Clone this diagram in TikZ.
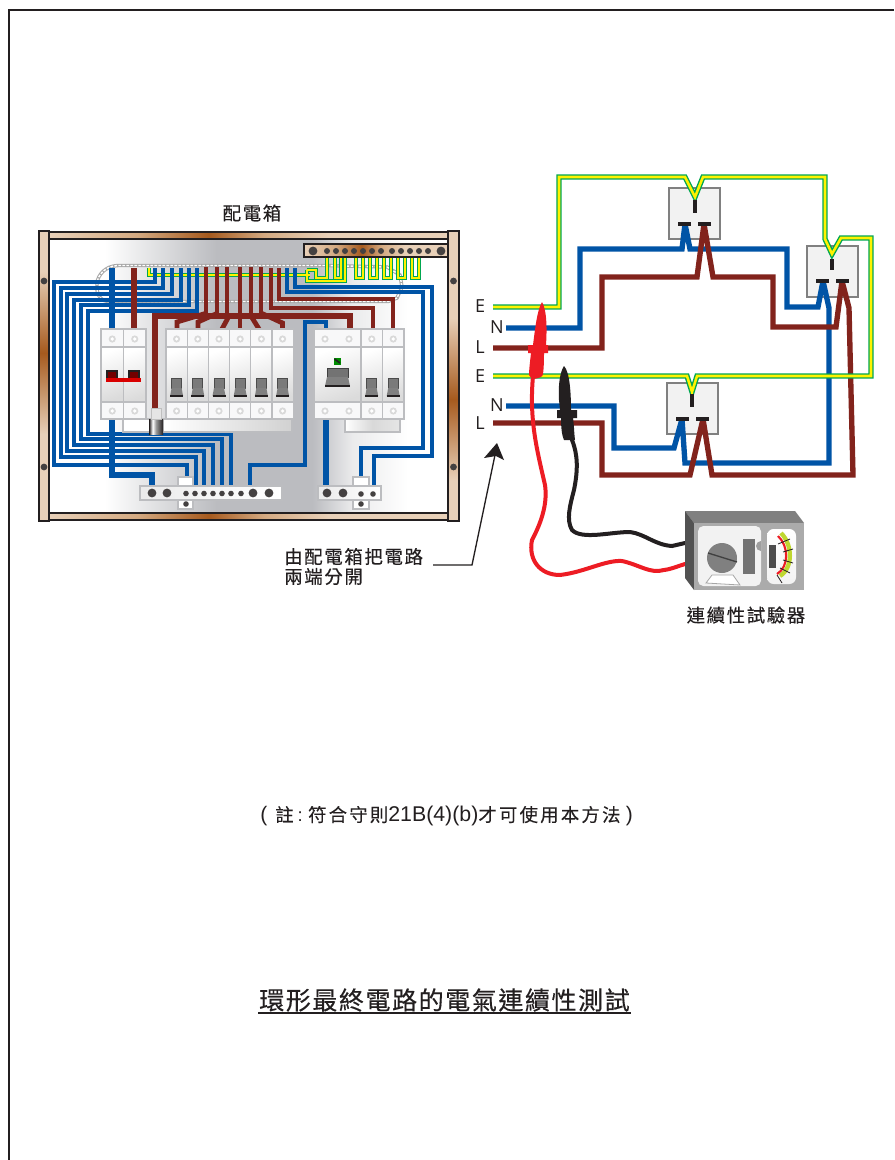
\documentclass[tikz,border=0pt]{standalone}
\usepackage{fontspec}
\setmainfont{Liberation Sans}
\newfontfamily\cjk[LetterSpace=9,FakeBold=0.25]{Noto Sans CJK TC}
\newfontfamily\cjkf[LetterSpace=12,FakeBold=0.25]{Noto Sans CJK TC}
\newfontfamily\cjkt[LetterSpace=6,FakeBold=0.3]{Noto Sans CJK TC}
\newfontfamily\latn{Liberation Sans}
\newfontfamily\lbl{Open Sans}
\definecolor{wblue}{HTML}{0054A6}
\definecolor{wred}{HTML}{82231C}
\definecolor{egreen}{HTML}{00A651}
\definecolor{eyellow}{HTML}{FFF200}
\definecolor{woodl}{HTML}{E8D0B8}
\definecolor{woodm}{HTML}{D4AA82}
\definecolor{woodd}{HTML}{A65A1E}
\definecolor{ink}{HTML}{231F20}
\definecolor{mcbline}{HTML}{BCBDC0}
\definecolor{panelg}{HTML}{BBBCC0}
\definecolor{leadred}{HTML}{ED1C24}
\definecolor{lime}{HTML}{BFD730}
\pgfdeclarehorizontalshading{woodh}{100bp}{color(0bp)=(woodl); color(25bp)=(woodl); color(36bp)=(woodm); color(45bp)=(woodd); color(52bp)=(woodm); color(60bp)=(woodl); color(100bp)=(woodl)}
\pgfdeclareverticalshading{woodva}{100bp}{color(0bp)=(woodl); color(40bp)=(woodl); color(54bp)=(woodd); color(68bp)=(woodl); color(100bp)=(woodl)}
\pgfdeclareverticalshading{woodvb}{100bp}{color(0bp)=(woodl); color(32bp)=(woodl); color(46bp)=(woodd); color(60bp)=(woodl); color(100bp)=(woodl)}
\pgfdeclarehorizontalshading{panelsh}{100bp}{color(0bp)=(white); color(25bp)=(white); color(32bp)=(white); color(46bp)=(panelg); color(58bp)=(panelg); color(63bp)=(white!70!panelg); color(70bp)=(white); color(100bp)=(white)}
\pgfdeclarehorizontalshading{cylsh}{100bp}{color(0bp)=(ink); color(25bp)=(ink); color(38bp)=(white); color(50bp)=(white!60!black); color(75bp)=(ink); color(100bp)=(ink)}
\tikzset{
 x=0.75pt,y=-0.75pt,
 thin wire/.style={line width=3pt,miter limit=10},
 bluew/.style={thin wire,draw=wblue},
 bluem/.style={line width=4pt,draw=wblue,miter limit=2},
 redw/.style={line width=3.6pt,draw=wred},
 redm/.style={line width=4pt,draw=wred,miter limit=2},
 earthg/.style={line width=4pt,draw=egreen,miter limit=10},
 earthy/.style={line width=1.9pt,draw=eyellow,miter limit=10},
 ebusg/.style={line width=3.3pt,draw=egreen},
 ebusy/.style={line width=1.5pt,draw=eyellow},
 sock/.style={draw=gray,fill=black!5,line width=1pt},
 pin/.style={draw=ink,line width=3pt},
 screw/.style={fill=ink!85},
 txt/.style={inner sep=0pt,font=\cjk\fontsize{13.8pt}{15pt}\selectfont,text=ink},
 lab/.style={inner sep=0pt,font=\lbl\fontsize{13.5pt}{15pt}\selectfont,text=ink},
 cell/.style={draw=mcbline,line width=0.9pt},
}
\newcommand{\mcbcell}[2]{% x, width
 \fill[white!90!mcbline] (#1,329) rectangle ++(#2,90);
 \shade[top color=white,bottom color=black!14,shading angle=20] (#1,347) rectangle ++(#2,55);
 \draw[cell] (#1,329) rectangle ++(#2,90);
 \draw[cell] (#1,347) -- ++(#2,0) (#1,402) -- ++(#2,0);
}
\newcommand{\ring}[2]{\fill[black!15] (#1,#2) circle (3.6);\fill[white] (#1,#2) circle (1.8);}
\newcommand{\hndl}[1]{% centre x
 \fill[black!52] (#1-5,378) rectangle (#1+5,389);
 \draw[black!70,line width=.6pt] (#1-5,389) -- (#1-5,378) -- (#1+5,378) -- (#1+5,389);
 \fill[black!50] (#1-5,388) -- (#1+5,388) -- (#1+6.5,396) -- (#1-6.5,396) -- cycle;
 \fill[ink] (#1-6.5,395) rectangle (#1+6.5,396.5);
}
\newcommand{\mcb}[2]{\mcbcell{#1}{#2}\pgfmathsetmacro\cxx{#1+#2/2}\ring{\cxx}{339}\ring{\cxx}{411}}
\newcommand{\epaths}{%
 (149,268) -- (149,275) -- (310,275)
 (307,270) -- (307,281) -- (345,281) -- (345,258)
 (307,270) -- (316,270) -- (316,278) -- (327,278) -- (327,258)
 (335,258) -- (335,278) -- (341,278) -- (341,258)
 (356,258) -- (356,278) -- (363,278) -- (363,258)
 (370,258) -- (370,278) -- (377,278) -- (377,258)
 (384,258) -- (384,278) -- (391,278) -- (391,258)
 (398,258) -- (398,278) -- (405,278) -- (405,258)
 (412,258) -- (412,278) -- (419,278) -- (419,258)
}
\newcommand{\circE}{%
 (493,307) -- (559,307) -- (559,177) -- (685,177) -- (695,197) -- (703,177) -- (825,177) -- (825,239) -- (832,254) -- (841,238) -- (871,238) -- (871,376) -- (697,376) -- (692,392) -- (687,376) -- (493,376)
}
\begin{document}
\begin{tikzpicture}
\useasboundingbox (0,0) rectangle (894,1160);
\fill[white] (0,0) rectangle (894,1160);
\draw[ink,line width=1.6pt] (9,1160) -- (9,10) -- (894,10);
% cabinet panel
\shade[shading=panelsh] (49,239) rectangle (448,513);
% conduit
\draw[black!35,line width=2.6pt,line cap=round] (325,265.5) -- (118,265.5) .. controls (105,266) and (98,275) .. (97,283) -- (97,290) .. controls (98,297) and (102,301) .. (108,301.5) -- (388,301.5) -- (397,298) -- (402,287) -- (400,275) -- (387,267) -- (325,265.5);
\draw[white,line width=1.1pt,dash pattern=on 2pt off 1pt] (325,265.5) -- (118,265.5) .. controls (105,266) and (98,275) .. (97,283) -- (97,290) .. controls (98,297) and (102,301) .. (108,301.5) -- (388,301.5) -- (397,298) -- (402,287) -- (400,275) -- (387,267) -- (325,265.5);
% earth wires
\draw[ebusg] \epaths;
\draw[ebusy] \epaths;
% earth bar
\fill[woodl] (304,244) rectangle (448,257);
\shade[shading=woodh] (304,245) rectangle (448,256);
\draw[ink,line width=.9pt] (304,244) rectangle (448,257);
\fill[screw] (313,251) circle (4.4) (441,251) circle (4.4);
\foreach \x in {327,336,345,354,363,372,381,392,401,410,419,428} \fill[screw] (\x,251) circle (3);
% nested neutrals
\draw[bluew] (155,268) -- (155,282) -- (54,282) -- (54,465) -- (187,465) -- (187,486);
\draw[bluew] (163,268) -- (163,288) -- (61,288) -- (61,457) -- (196,457) -- (196,486);
\draw[bluew] (172,268) -- (172,294) -- (67,294) -- (67,451) -- (204,451) -- (204,486);
\draw[bluew] (181,268) -- (181,300) -- (74,300) -- (74,445) -- (213,445) -- (213,486);
\draw[bluew] (189,268) -- (189,305) -- (81,305) -- (81,439) -- (222,439) -- (222,486);
\draw[bluew] (197,268) -- (197,311) -- (88,311) -- (88,434) -- (231,434) -- (231,486);
\draw[bluem] (112,268) -- (112,329);
\draw[redm] (134,268) -- (134,329);
\draw[bluem] (112,419) -- (112,475) -- (152,475) -- (152,486);
% live bus
\draw[redm] (155,408) -- (155,316) -- (350,316) -- (350,329);
\foreach \x in {206,217,227,240,251,261} \draw[redw] (\x,267) -- (\x,316);
\draw[redw] (177,329) -- (177,322) -- (207,313);
\draw[redw] (198,329) -- (198,322) -- (218,313);
\draw[redw] (222,329) -- (229,316);
\draw[redw] (240,316) -- (240,329);
\draw[redw] (259,329) -- (251,316);
\draw[redw] (282.5,329) -- (282.5,323) -- (261,313);
\draw[redw] (271,268) -- (271,308) -- (373,308) -- (373,329);
\draw[redw] (279,268) -- (279,299) -- (393,299) -- (393,329);
% right neutrals
\draw[bluew] (287,268) -- (287,292) -- (423,292) -- (423,448) -- (361,448) -- (361,486);
\draw[bluew] (295,268) -- (295,287) -- (432,287) -- (432,456) -- (374,456) -- (374,486);
\draw[bluew] (326,329) -- (326,322) -- (305,322) -- (305,465) -- (250,465) -- (250,486);
\draw[bluem] (326,419) -- (326,486);
% din rails
\draw[cell,fill=white] (123,419) rectangle (150,432);
\shade[left color=white,right color=black!18,draw=mcbline,line width=.9pt] (163,419) rectangle (292,432);
\shade[left color=white,right color=black!10,middle color=black!15,draw=mcbline,line width=.9pt] (345,419) rectangle (400,432);
\shade[shading=cylsh] (149,419) rectangle (163,434);
% main switch
\mcb{101}{22.5}\mcb{123.5}{22.5}
\fill[ink] (106,370) rectangle (118,380);\fill[ink] (128,370) rectangle (140,380);
\fill[red!45!black] (108,372) rectangle (116,379);\fill[red!45!black] (130,372) rectangle (138,379);
\fill[red!85!black] (106,378) rectangle (141,381.5);
\fill[black!10] (151,408) rectangle (161,419);\draw[black!25,line width=.5pt] (151,408) rectangle (161,419);
% MCBs
\foreach \x in {166,187.2,208.4,229.6,250.8,272} {\mcb{\x}{21.2}\pgfmathsetmacro\cc{\x+10.6}\hndl{\cc}}
% RCD
\mcbcell{314}{47}\ring{325}{339}\ring{349}{339}\ring{325}{411}\ring{349}{411}
\fill[green!55!black] (333.5,357.5) rectangle (340.5,364.5);
\draw[ink,line width=1.2pt] (334.5,359) -- (340,363);
\fill[black!55] (327,368) rectangle (348,378);
\draw[black!75,line width=.6pt] (327,378) -- (327,368) -- (348,368) -- (348,378);
\fill[black!50] (327,377) -- (348,377) -- (350,386) -- (325,386) -- cycle;
\fill[ink] (325,385) rectangle (350,386.5);
\mcb{361}{21.5}\hndl{371.7}
\mcb{382.5}{21.5}\hndl{393.2}
% neutral bars
\draw[cell,fill=white] (178,477) rectangle (193,509);
\draw[cell,fill=white] (353,477) rectangle (369,509);
\shade[left color=black!8,right color=white,draw=mcbline,line width=1pt] (140,486) rectangle (282,500);
\shade[left color=black!8,right color=white,draw=mcbline,line width=1pt] (318,486) rectangle (381,500);
\fill[screw] (152,493) circle (4.4) (167,493) circle (4.4) (253,493) circle (4.4) (269,493) circle (4.4) (327,493) circle (4.4) (343,493) circle (4.4);
\foreach \x in {186,195,204,213,222,231,241} \fill[screw] (\x,493.5) circle (2.8);
\fill[screw] (186,504) circle (2.8) (361,494) circle (2.8) (373,494) circle (2.8) (361,504) circle (2.8);
% frame
\shade[shading=woodh] (49,232) rectangle (448,239);
\shade[shading=woodh] (49,513) rectangle (448,520);
\draw[ink,line width=.9pt] (49,232) rectangle (448,239) (49,513) rectangle (448,520);
\shade[shading=woodva] (39,231) rectangle (49,521);
\shade[shading=woodvb] (448,231) rectangle (459,521);
\draw[ink,line width=.9pt] (39,231) rectangle (49,521) (448,231) rectangle (459,521);
\fill[screw] (44,281) circle (3.4) (44,467) circle (3.4) (453.5,281) circle (3.4) (453.5,467) circle (3.4);
% sockets
\draw[sock] (669,188) rectangle (720,239);
\draw[sock] (807,246) rectangle (858,297);
\draw[sock] (667,383) rectangle (718,434);
% circuit
\draw[bluem] (506,328) -- (580,328) -- (580,249) -- (682,249) -- (685,224) -- (690,249) -- (787,249) -- (787,307) -- (818,307) -- (823,281) -- (829,308) -- (829,463) -- (685,463) -- (682,419) -- (674,448) -- (614,448) -- (614,406) -- (506,406);
\draw[redm] (493,348) -- (602,348) -- (602,277) -- (697,277) -- (704,224) -- (713,277) -- (773,277) -- (773,327) -- (836,327) -- (842,281) -- (849,308) -- (853,475) -- (712,475) -- (703,419) -- (690,475) -- (602,475) -- (602,423) -- (493,423);
\draw[earthg] \circE;
\draw[earthy] \circE;
% pins
\draw[pin] (694.5,200) -- (694.5,213) (678,224) -- (691,224) (698,224) -- (711,224);
\draw[pin] (832,259) -- (832,270) (816,281) -- (829,281) (836,281) -- (849,281);
\draw[pin] (692,394) -- (692,407) (676,419) -- (689,419) (696,419) -- (709,419);
% labels
\node[lab] (e1) at (480,306.5) {E};
\node[lab] (n1) at (497,327.5) {N};
\node[lab] (l1) at (480,347.5) {L};
\node[lab] (e2) at (480,376) {E};
\node[lab] (n2) at (497,405) {N};
\node[lab] (l2) at (480,423) {L};
% arrow
\coordinate (pt) at (497,443);
\coordinate (lb) at (433,565);
\coordinate (el) at (472,565);
\draw[ink,line width=1pt] (lb) -- (el) -- (495,455);
\fill[ink] (pt) -- (504,460) -- (496,456) -- (484,458) -- cycle;
% leads
\draw[leadred,line width=3pt,line cap=round] (533,376) .. controls (529,420) and (537,450) .. (545,485) .. controls (548,505) and (540,525) .. (532,540) .. controls (528,560) and (540,575) .. (560,575) .. controls (585,572) and (605,560) .. (622,561) .. controls (640,565) and (650,574) .. (664,570) .. controls (672,569) and (678,566) .. (685,564);
\draw[ink,line width=3pt,line cap=round] (572,440) .. controls (578,455) and (578,470) .. (574,490) .. controls (570,505) and (566,520) .. (572,530) .. controls (582,540) and (610,532) .. (630,532) .. controls (645,534) and (655,545) .. (672,546) -- (685,543);
% probes
\fill[leadred] (542,302) .. controls (537,310) and (535,330) .. (533,345) -- (528,345) -- (528,353) -- (531,353) .. controls (530,362) and (529,370) .. (529,375) .. controls (531,378) and (533,379) .. (534,379) .. controls (539,378) and (543,377) .. (543,374) .. controls (544,366) and (544,360) .. (544,353) -- (548,353) -- (548,345) -- (546,345) .. controls (547,330) and (547,310) .. (542,302) -- cycle;
\fill[ink] (564,366) .. controls (560,372) and (558,385) .. (559,400) -- (560,410) -- (557,410) -- (557,418) -- (561,418) .. controls (561,428) and (562,436) .. (564,440) -- (575,440) .. controls (574,432) and (574,424) .. (573,418) -- (577,418) -- (577,410) -- (571,410) .. controls (571,395) and (570,372) .. (564,366) -- cycle;
% tester
\fill[black!50] (685,511) -- (795,511) -- (804,523) -- (694,523) -- cycle;
\fill[black!68] (685,511) -- (694,523) -- (694,590) -- (685,578) -- cycle;
\fill[black!33] (694,523) rectangle (804,590);
\fill[black!5,rounded corners=4] (698,526) rectangle (761,586);
\shade[top color=white,bottom color=black!5,rounded corners=5] (767,529) rectangle (796,584);
\draw[black!35,line width=.6pt,fill=white] (712,575) -- (706,583) -- (740,585) -- (733,575) -- cycle;
\fill[black!50] (722,558) circle (15);
\draw[black!75,line width=1pt] (708,553) -- (737,562);
\fill[black!55] (743,539) rectangle (755,574);
\fill[black!38] (761,551) arc (90:270:5);
\fill[black!70] (769,545) rectangle (776,568);
\draw[lime,line width=3.2pt] (781,533) .. controls (793,545) and (793,568) .. (780,576);
\draw[leadred,line width=1.6pt] (778,536) .. controls (789,546) and (789,567) .. (777,574);
\draw[ink,line width=.6pt] (778,544) -- (790,539) (783,552) -- (793,549) (783,560) -- (793,563) (780,568) -- (790,573) (777,575) -- (782,583);
% text
\node[txt] (cab) at (252,213) {配電箱};
\node[txt,anchor=west] (sep1) at (284,556.5) {由配電箱把電路};
\node[txt,anchor=west] (sep2) at (284,576.5) {兩端分開};
\node[txt] (tst) at (746,615) {連續性試驗器};
\node[txt,anchor=west,font=\cjkf\fontsize{13.8pt}{15pt}\selectfont] (fn) at (260,816) {{\latn\fontsize{15.75pt}{15pt}\selectfont(}\hspace{6pt}註\hspace{3pt}{\latn:}\hspace{4pt}符合守則{\latn\fontsize{16pt}{15pt}\selectfont 21B(4)(b)}才可使用本方法\hspace{4pt}{\latn\fontsize{15.75pt}{15pt}\selectfont)}};
\node[inner sep=0pt,font=\cjkt\fontsize{18.8pt}{20pt}\selectfont,text=ink] (ttl) at (444.5,1000) {環形最終電路的電氣連續性測試};
\draw[ink,line width=1.1pt] (258,1013) -- (631,1013);
\end{tikzpicture}
\end{document}
